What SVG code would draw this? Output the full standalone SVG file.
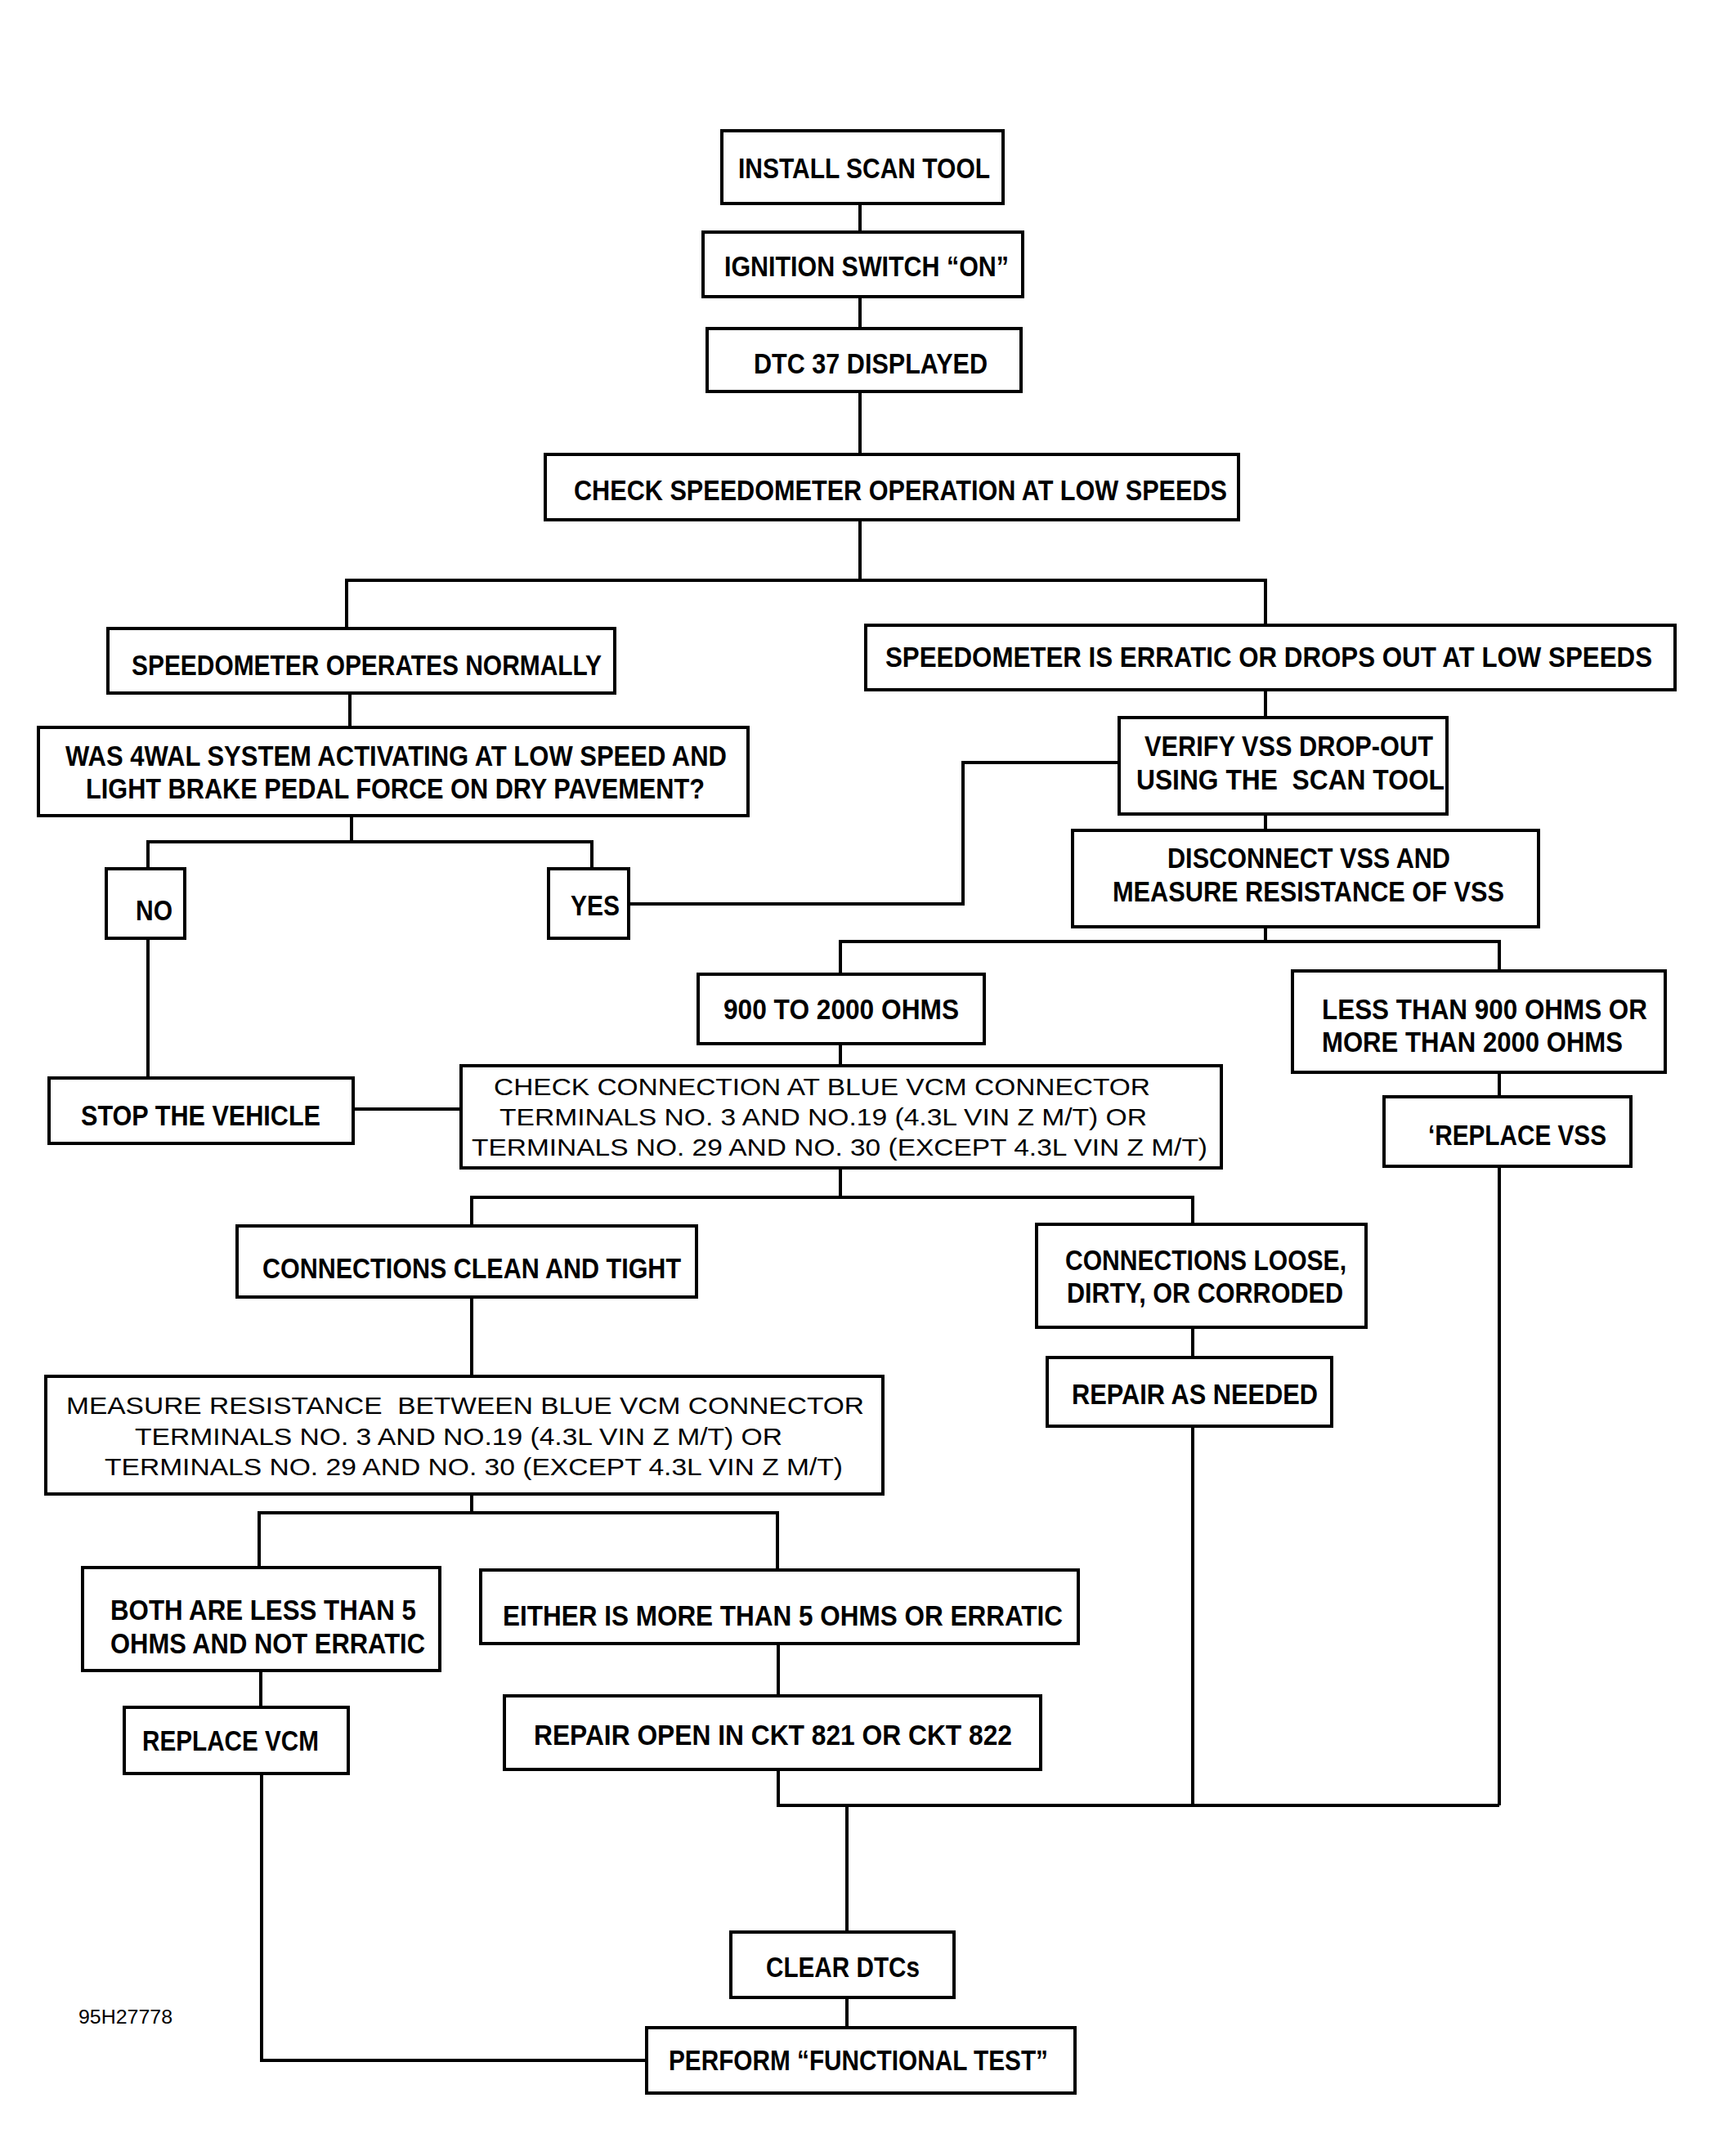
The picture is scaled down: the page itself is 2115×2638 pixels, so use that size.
<svg xmlns="http://www.w3.org/2000/svg" width="2115" height="2638" viewBox="0 0 2115 2638">
<style>
.bx{fill:#fff;stroke:#000;stroke-width:4}
text{font-family:"Liberation Sans",Arial,sans-serif;fill:#000}
.t{font-size:35px;font-weight:bold}
.r{font-size:30px;font-weight:normal}
.s{font-size:23px;font-weight:normal}
#connectors path{fill:none;stroke:#000;stroke-width:4;stroke-linejoin:miter}
</style>
<rect width="2115" height="2638" fill="#fff"/>
<g id="connectors">
<path d="M1052,249V284M1052,363V402M1052,479V556M1052,636V710"/>
<path d="M424,769V710H1548V765"/>
<path d="M428,848V890"/>
<path d="M430,998V1030M181,1063V1030H724V1063"/>
<path d="M769,1106H1178V933H1369"/>
<path d="M1548,844V878M1548,996V1016M1548,1134V1152"/>
<path d="M1028,1192V1152H1834V1188"/>
<path d="M1028,1277V1304"/>
<path d="M181,1148V1319"/>
<path d="M432,1357H564"/>
<path d="M1834,1312V1342M1834,1427V2209"/>
<path d="M1028,1429V1465M577,1500V1465H1459V1498"/>
<path d="M577,1587V1684"/>
<path d="M1459,1624V1661M1459,1745V2209"/>
<path d="M577,1828V1851M317,1918V1851H951V1921"/>
<path d="M319,2044V2089"/>
<path d="M952,2011V2075M952,2165V2209H1834"/>
<path d="M1036,2209V2364M1036,2444V2481"/>
<path d="M320,2170V2521H791"/>
</g>
<g id="n1"><rect class="bx" x="883" y="160" width="344" height="89"/><text class="t" x="903" y="218" textLength="308" lengthAdjust="spacingAndGlyphs">INSTALL SCAN TOOL</text></g>
<g id="n2"><rect class="bx" x="860" y="284" width="391" height="79"/><text class="t" x="886" y="338" textLength="348" lengthAdjust="spacingAndGlyphs">IGNITION SWITCH “ON”</text></g>
<g id="n3"><rect class="bx" x="865" y="402" width="384" height="77"/><text class="t" x="922" y="457" textLength="286" lengthAdjust="spacingAndGlyphs">DTC 37 DISPLAYED</text></g>
<g id="n4"><rect class="bx" x="667" y="556" width="848" height="80"/><text class="t" x="702" y="612" textLength="799" lengthAdjust="spacingAndGlyphs">CHECK SPEEDOMETER OPERATION AT LOW SPEEDS</text></g>
<g id="n5"><rect class="bx" x="132" y="769" width="620" height="79"/><text class="t" x="161" y="826" textLength="575" lengthAdjust="spacingAndGlyphs">SPEEDOMETER OPERATES NORMALLY</text></g>
<g id="n6"><rect class="bx" x="47" y="890" width="868" height="108"/><text class="t" x="80" y="937" textLength="809" lengthAdjust="spacingAndGlyphs">WAS 4WAL SYSTEM ACTIVATING AT LOW SPEED AND</text><text class="t" x="105" y="977" textLength="757" lengthAdjust="spacingAndGlyphs">LIGHT BRAKE PEDAL FORCE ON DRY PAVEMENT?</text></g>
<g id="n7"><rect class="bx" x="130" y="1063" width="96" height="85"/><text class="t" x="166" y="1126" textLength="45" lengthAdjust="spacingAndGlyphs">NO</text></g>
<g id="n8"><rect class="bx" x="671" y="1063" width="98" height="85"/><text class="t" x="698" y="1120" textLength="60" lengthAdjust="spacingAndGlyphs">YES</text></g>
<g id="n9"><rect class="bx" x="1059" y="765" width="990" height="79"/><text class="t" x="1083" y="816" textLength="938" lengthAdjust="spacingAndGlyphs">SPEEDOMETER IS ERRATIC OR DROPS OUT AT LOW SPEEDS</text></g>
<g id="n10"><rect class="bx" x="1369" y="878" width="401" height="118"/><text class="t" x="1400" y="925" textLength="353" lengthAdjust="spacingAndGlyphs">VERIFY VSS DROP-OUT</text><text class="t" x="1390" y="966" textLength="377" lengthAdjust="spacingAndGlyphs" xml:space="preserve">USING THE  SCAN TOOL</text></g>
<g id="n11"><rect class="bx" x="1312" y="1016" width="570" height="118"/><text class="t" x="1428" y="1062" textLength="346" lengthAdjust="spacingAndGlyphs">DISCONNECT VSS AND</text><text class="t" x="1361" y="1103" textLength="479" lengthAdjust="spacingAndGlyphs">MEASURE RESISTANCE OF VSS</text></g>
<g id="n12"><rect class="bx" x="854" y="1192" width="350" height="85"/><text class="t" x="885" y="1247" textLength="288" lengthAdjust="spacingAndGlyphs">900 TO 2000 OHMS</text></g>
<g id="n13"><rect class="bx" x="1581" y="1188" width="456" height="124"/><text class="t" x="1617" y="1247" textLength="398" lengthAdjust="spacingAndGlyphs">LESS THAN 900 OHMS OR</text><text class="t" x="1617" y="1287" textLength="368" lengthAdjust="spacingAndGlyphs">MORE THAN 2000 OHMS</text></g>
<g id="n14"><rect class="bx" x="60" y="1319" width="372" height="80"/><text class="t" x="99" y="1377" textLength="293" lengthAdjust="spacingAndGlyphs">STOP THE VEHICLE</text></g>
<g id="n15"><rect class="bx" x="564" y="1304" width="930" height="125"/><text class="r" x="604" y="1340" textLength="803" lengthAdjust="spacingAndGlyphs">CHECK CONNECTION AT BLUE VCM CONNECTOR</text><text class="r" x="611" y="1377" textLength="792" lengthAdjust="spacingAndGlyphs">TERMINALS NO. 3 AND NO.19 (4.3L VIN Z M/T) OR</text><text class="r" x="577" y="1414" textLength="900" lengthAdjust="spacingAndGlyphs">TERMINALS NO. 29 AND NO. 30 (EXCEPT 4.3L VIN Z M/T)</text></g>
<g id="n16"><rect class="bx" x="290" y="1500" width="562" height="87"/><text class="t" x="321" y="1564" textLength="512" lengthAdjust="spacingAndGlyphs">CONNECTIONS CLEAN AND TIGHT</text></g>
<g id="n17"><rect class="bx" x="1268" y="1498" width="403" height="126"/><text class="t" x="1303" y="1554" textLength="344" lengthAdjust="spacingAndGlyphs">CONNECTIONS LOOSE,</text><text class="t" x="1305" y="1594" textLength="338" lengthAdjust="spacingAndGlyphs">DIRTY, OR CORRODED</text></g>
<g id="n18"><rect class="bx" x="1281" y="1661" width="348" height="84"/><text class="t" x="1311" y="1718" textLength="301" lengthAdjust="spacingAndGlyphs">REPAIR AS NEEDED</text></g>
<g id="n19"><rect class="bx" x="1693" y="1342" width="302" height="85"/><text class="t" x="1747" y="1401" textLength="218" lengthAdjust="spacingAndGlyphs">‘REPLACE VSS</text></g>
<g id="n20"><rect class="bx" x="56" y="1684" width="1024" height="144"/><text class="r" x="81" y="1730" textLength="976" lengthAdjust="spacingAndGlyphs" xml:space="preserve">MEASURE RESISTANCE  BETWEEN BLUE VCM CONNECTOR</text><text class="r" x="165" y="1768" textLength="792" lengthAdjust="spacingAndGlyphs">TERMINALS NO. 3 AND NO.19 (4.3L VIN Z M/T) OR</text><text class="r" x="128" y="1805" textLength="903" lengthAdjust="spacingAndGlyphs">TERMINALS NO. 29 AND NO. 30 (EXCEPT 4.3L VIN Z M/T)</text></g>
<g id="n21"><rect class="bx" x="101" y="1918" width="437" height="126"/><text class="t" x="135" y="1982" textLength="374" lengthAdjust="spacingAndGlyphs">BOTH ARE LESS THAN 5</text><text class="t" x="135" y="2023" textLength="385" lengthAdjust="spacingAndGlyphs">OHMS AND NOT ERRATIC</text></g>
<g id="n22"><rect class="bx" x="588" y="1921" width="731" height="90"/><text class="t" x="615" y="1989" textLength="685" lengthAdjust="spacingAndGlyphs">EITHER IS MORE THAN 5 OHMS OR ERRATIC</text></g>
<g id="n23"><rect class="bx" x="152" y="2089" width="274" height="81"/><text class="t" x="174" y="2142" textLength="216" lengthAdjust="spacingAndGlyphs">REPLACE VCM</text></g>
<g id="n24"><rect class="bx" x="617" y="2075" width="656" height="90"/><text class="t" x="653" y="2135" textLength="585" lengthAdjust="spacingAndGlyphs">REPAIR OPEN IN CKT 821 OR CKT 822</text></g>
<g id="n25"><rect class="bx" x="894" y="2364" width="273" height="80"/><text class="t" x="937" y="2419" textLength="188" lengthAdjust="spacingAndGlyphs">CLEAR DTCs</text></g>
<g id="n26"><rect class="bx" x="791" y="2481" width="524" height="80"/><text class="t" x="818" y="2533" textLength="464" lengthAdjust="spacingAndGlyphs">PERFORM “FUNCTIONAL TEST”</text></g>
<g id="label"><text class="s" x="96" y="2476" textLength="115" lengthAdjust="spacingAndGlyphs">95H27778</text></g>
</svg>
